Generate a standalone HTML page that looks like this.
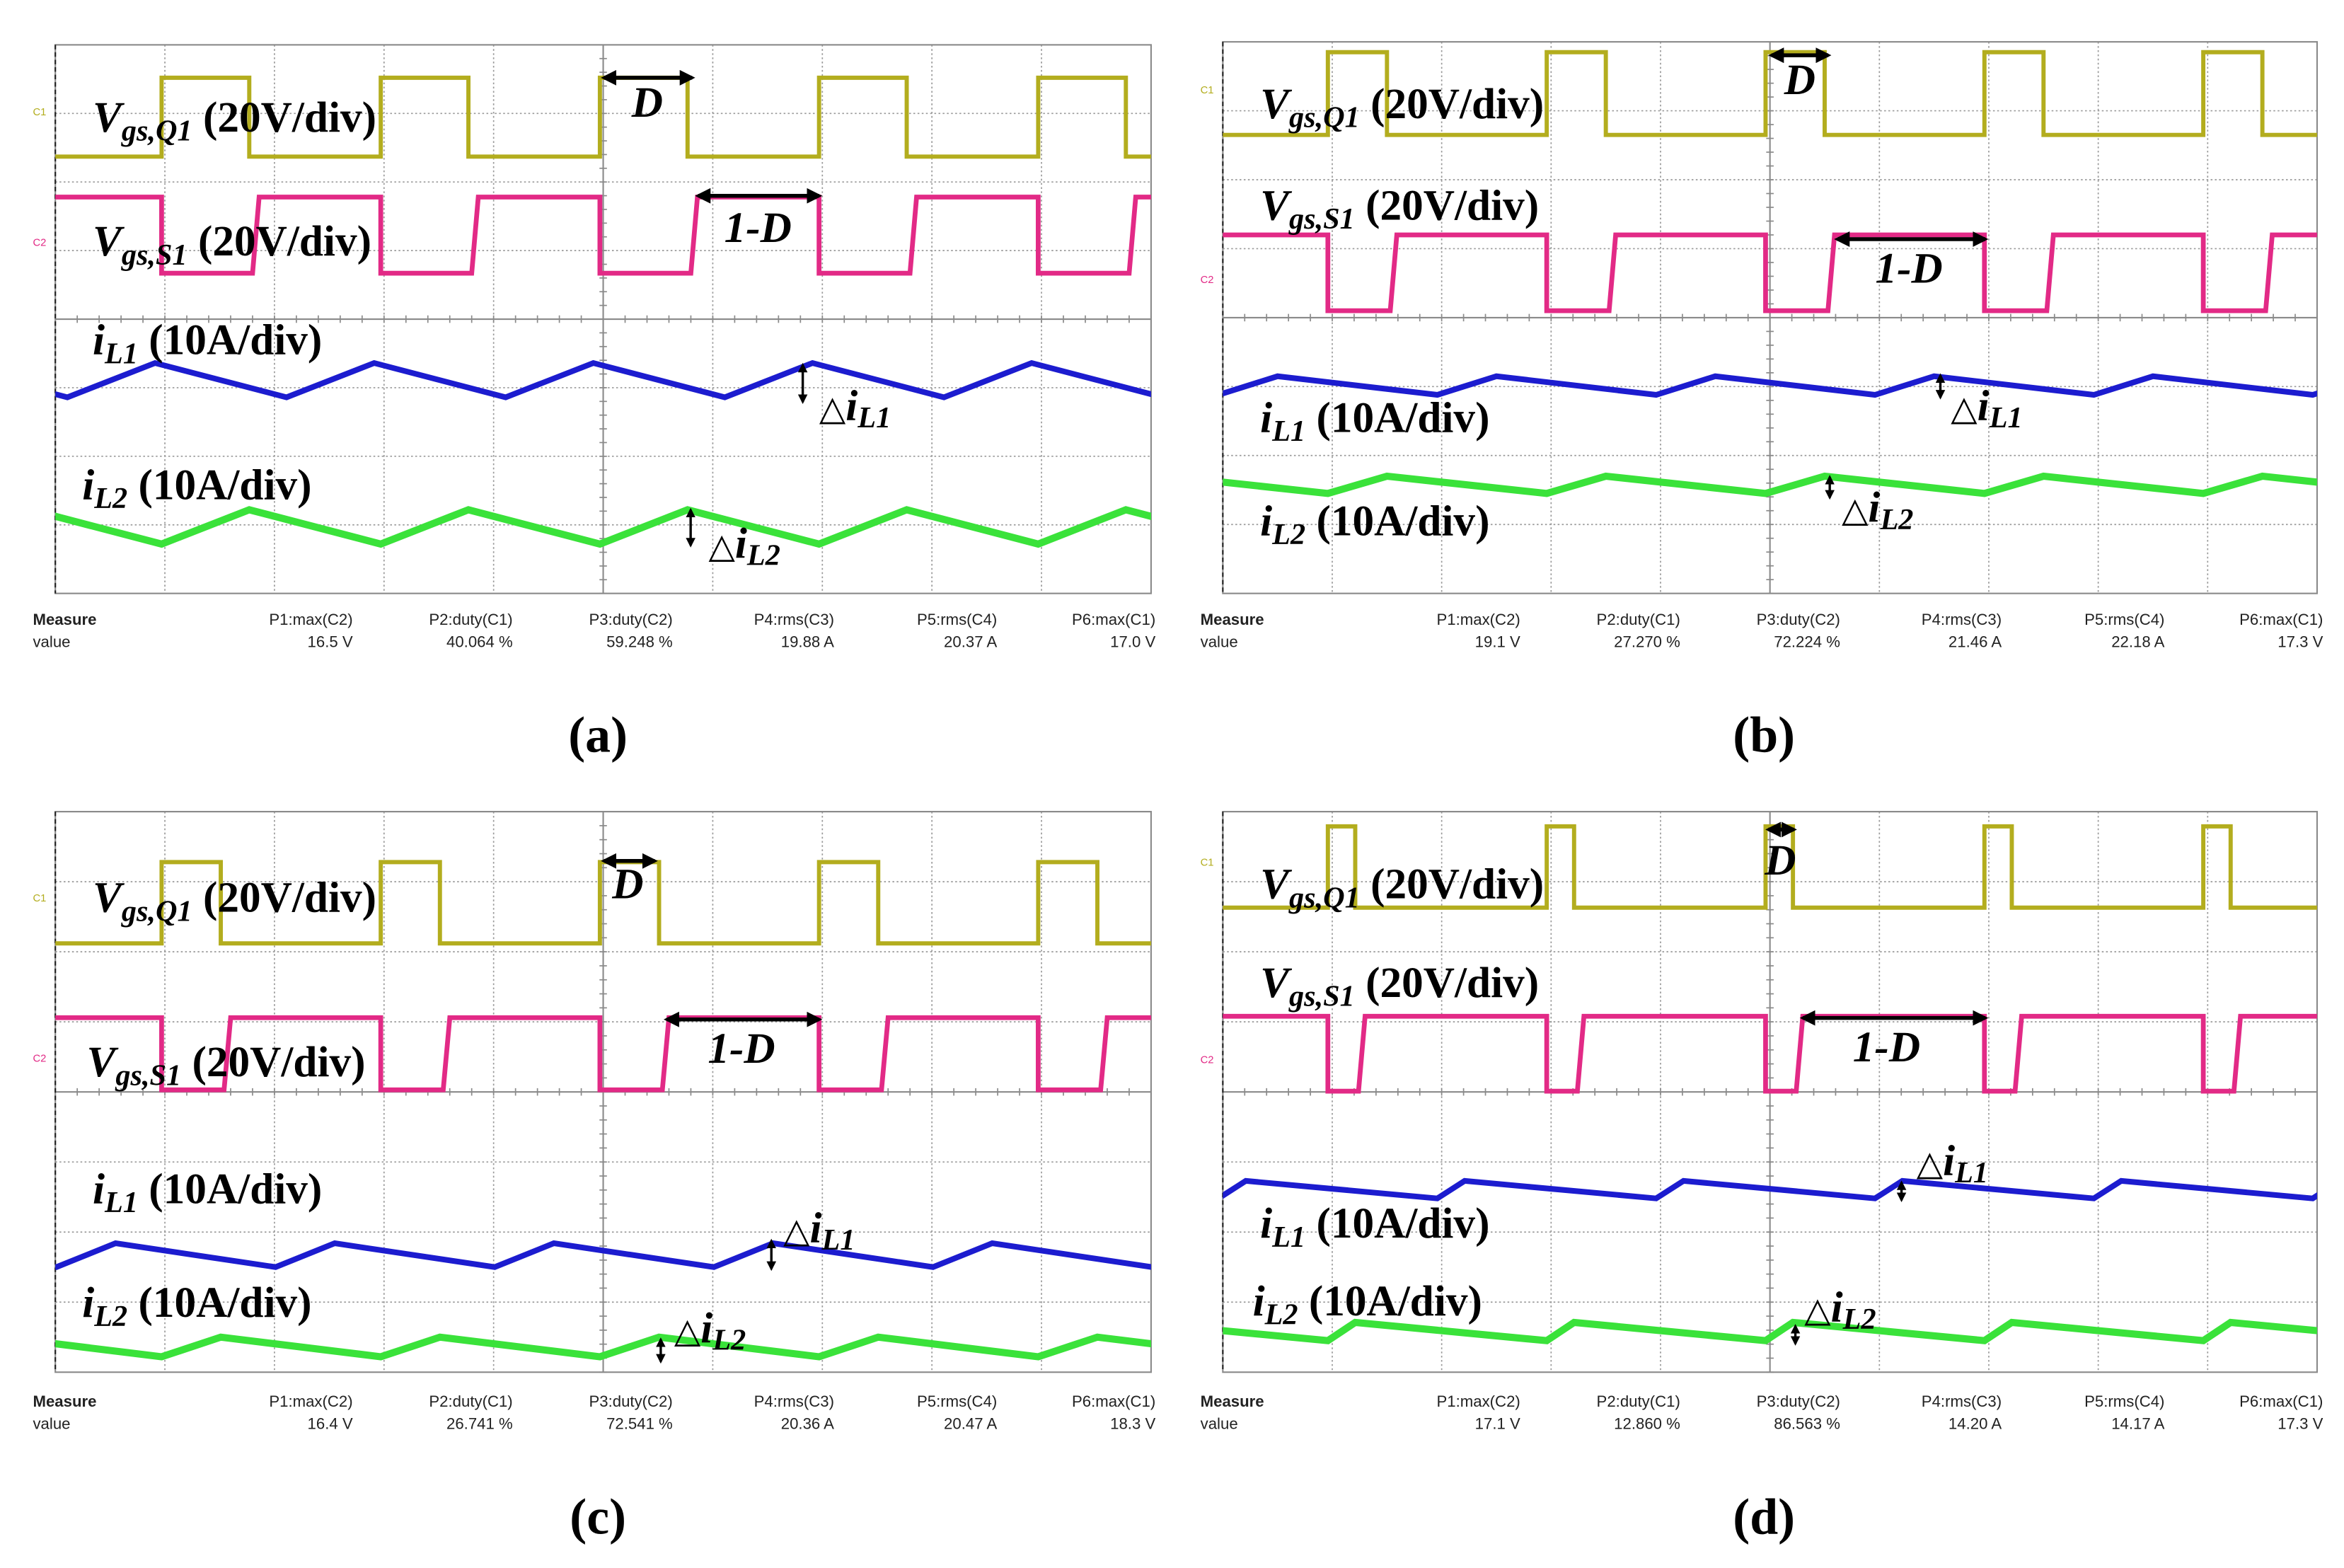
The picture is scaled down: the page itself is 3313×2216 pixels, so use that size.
<!DOCTYPE html>
<html><head><meta charset="utf-8"><style>
html,body{margin:0;padding:0;background:#fff;}
svg{display:block;}
.lbl{font-family:"Liberation Serif",serif;font-weight:bold;font-size:29px;fill:#000;}
.ms{font-family:"Liberation Sans",sans-serif;font-size:10.5px;fill:#222;}
.cap{font-family:"Liberation Serif",serif;font-weight:bold;font-size:34px;fill:#000;}
</style></head><body>
<svg id="fig" xmlns="http://www.w3.org/2000/svg" width="3313" height="2216" viewBox="0 0 1568 1049" preserveAspectRatio="none">
<defs>
<marker id="ah" viewBox="0 0 10 10" refX="8" refY="5" markerWidth="4" markerHeight="4" orient="auto-start-reverse"><path d="M0,0 L10,5 L0,10 z" fill="#000"/></marker>
</defs>
</svg>
<script>
// ---- data (division units: x 0..10, y 0..8 from top) ----
const panelIds = ['a','b','c','d'];
const riseTimes = [0.97, 0.96, 0.97, 0.96];
const dutyCycles = [0.40, 0.27, 0.27, 0.125];
const iL1Offsets = [1.14, 1.0, 1.04, 1.0];
const q1High = [0.48, 0.15, 0.72, 0.21];
const q1Low = [1.63, 1.35, 1.88, 1.37];
const s1High = [2.22, 2.80, 2.94, 2.92];
const s1Low = [3.33, 3.90, 3.97, 3.99];
const iL1Peak = [4.64, 4.85, 6.16, 5.27];
const iL1Trough = [5.14, 5.12, 6.50, 5.52];
const iL2Peak = [6.78, 6.30, 7.50, 7.29];
const iL2Trough = [7.28, 6.55, 7.78, 7.55];
const measureLabels = ['P1:max(C2)','P2:duty(C1)','P3:duty(C2)','P4:rms(C3)','P5:rms(C4)','P6:max(C1)'];
const measureValuesA = ['16.5 V','40.064 %','59.248 %','19.88 A','20.37 A','17.0 V'];
const measureValuesB = ['19.1 V','27.270 %','72.224 %','21.46 A','22.18 A','17.3 V'];
const measureValuesC = ['16.4 V','26.741 %','72.541 %','20.36 A','20.47 A','18.3 V'];
const measureValuesD = ['17.1 V','12.860 %','86.563 %','14.20 A','14.17 A','17.3 V'];
const measureValues = [measureValuesA, measureValuesB, measureValuesC, measureValuesD];

// ---- layout ----
const layout = [
 {x0:37,x1:770,y0:30,y1:397,my:418,cap:[400,503],
  lb:[[62,88],[62,171],[62,237],[55,334]],D:[402,465,52,433,78],OD:[465,550,131,507,162],
  d1:[537,243,270,548,281],d2:[462,340,366,474,373]},
 {x0:818,x1:1550,y0:28,y1:397,my:418,cap:[1180,503],
  lb:[[843,79],[843,147],[843,289],[843,358]],D:[1183,1225,37,1204,63],OD:[1227,1330,160,1277,189],
  d1:[1298,250,267,1305,281],d2:[1224,318,334,1232,349]},
 {x0:37,x1:770,y0:543,y1:918,my:941,cap:[400,1026],
  lb:[[62,610],[58,720],[62,805],[55,881]],D:[402,440,576,420,601],OD:[444,550,682,496,711],
  d1:[516,829,850,524,831],d2:[442,895,912,451,898]},
 {x0:818,x1:1550,y0:543,y1:918,my:941,cap:[1180,1026],
  lb:[[843,601],[843,667],[843,828],[838,880]],D:[1181,1202,555,1191,585],OD:[1204,1330,681,1262,710],
  d1:[1272,790,804,1282,786],d2:[1201,886,900,1207,884]}
];
const NS='http://www.w3.org/2000/svg';
const svg=document.getElementById('fig');
function mk(tag,attrs,parent){const e=document.createElementNS(NS,tag);for(const k in attrs)e.setAttribute(k,attrs[k]);(parent||svg).appendChild(e);return e;}

function trace(g,pts,color,sx,sy,w){
  const d=pts.map((p,i)=>(i?'L':'M')+sx(p[0]).toFixed(2)+','+sy(p[1]).toFixed(2)).join(' ');
  return mk('path',{d:d,fill:'none',stroke:color,'stroke-width':w,'stroke-linejoin':'miter'},g);
}

panelIds.forEach((id,i)=>{
  const L=layout[i];
  const sx=v=>L.x0+(L.x1-L.x0)*v/10;
  const sy=v=>L.y0+(L.y1-L.y0)*v/8;
  const g=mk('g',{});
  
  
  const grid=mk('g',{},g);
  
  
  for(let k=1;k<10;k++){ if(k===5)continue; mk('line',{x1:sx(k),x2:sx(k),y1:L.y0,y2:L.y1,stroke:'#9a9a9a','stroke-width':0.8,'stroke-dasharray':'1.2 1.6'},grid);}
  for(let k=1;k<8;k++){ if(k===4)continue; mk('line',{x1:L.x0,x2:L.x1,y1:sy(k),y2:sy(k),stroke:'#9a9a9a','stroke-width':0.8,'stroke-dasharray':'1.2 1.6'},grid);}
  mk('line',{x1:sx(5),x2:sx(5),y1:L.y0,y2:L.y1,stroke:'#8a8a8a','stroke-width':1},grid);
  mk('line',{x1:L.x0,x2:L.x1,y1:sy(4),y2:sy(4),stroke:'#8a8a8a','stroke-width':1},grid);
  for(let k=0;k<=50;k++){const x=sx(k/5);mk('line',{x1:x,x2:x,y1:sy(4)-2.5,y2:sy(4)+2.5,stroke:'#8a8a8a','stroke-width':0.8},grid);}
  for(let k=0;k<=40;k++){const y=sy(k/5);mk('line',{x1:sx(5)-2.5,x2:sx(5)+2.5,y1:y,y2:y,stroke:'#8a8a8a','stroke-width':0.8},grid);}
  const fr=mk('rect',{x:L.x0,y:L.y0,width:L.x1-L.x0,height:L.y1-L.y0,fill:'none',stroke:'#8a8a8a','stroke-width':1},g);
  
  
  mk('line',{x1:L.x0,x2:L.x0,y1:L.y0,y2:L.y1,stroke:'#222','stroke-width':1,'stroke-dasharray':'3 2'},g);
  const cp=mk('clipPath',{id:'clip'+id},g);
  mk('rect',{x:L.x0,y:L.y0,width:L.x1-L.x0,height:L.y1-L.y0},cp);
  const tg=mk('g',{'clip-path':'url(#clip'+id+')'},g);
  const r=riseTimes[i], D=dutyCycles[i];
  const on=2*D;
  const q=[], s=[], b=[], gr=[];
  for(let k=-2;k<=5;k++){
    const t=r+2*k;
    q.push([t,q1Low[i]],[t,q1High[i]],[t+on,q1High[i]],[t+on,q1Low[i]]);
    s.push([t,s1High[i]],[t,s1Low[i]],[t+on+0.03,s1Low[i]],[t+on+0.09,s1High[i]]);
    gr.push([t,iL2Trough[i]],[t+on,iL2Peak[i]]);
    b.push([t+iL1Offsets[i],iL1Trough[i]],[t+iL1Offsets[i]+on,iL1Peak[i]]);
  }
  let p;
  p=trace(tg,q,'#b3ad1e',sx,sy,2.8);
  
  
  p=trace(tg,s,'#e22a86',sx,sy,3.2);
  
  
  p=trace(tg,b,'#1c1ccf',sx,sy,3.8);
  
  
  p=trace(tg,gr,'#3ae23a',sx,sy,4.8);
  
  
  const chs=[['C1','#b3ad1e',q1Low[i]-0.6],['C2','#e22a86',s1Low[i]-0.4]];
  chs.forEach((c)=>{ const t=mk('text',{x:L.x0-15,y:sy(c[2]),fill:c[1],'font-family':'Liberation Sans,sans-serif','font-size':7},g); t.textContent=c[0];
    
    });
  const lbs=[['V','gs,Q1',' (20V/div)'],['V','gs,S1',' (20V/div)'],['i','L1',' (10A/div)'],['i','L2',' (10A/div)']];
  const lnames=['vgs-q1-label','vgs-s1-label','il1-label','il2-label'];
  lbs.forEach((lb,j)=>{
    const t=mk('text',{x:L.lb[j][0],y:L.lb[j][1],class:'lbl'},g);
    
    
    const a=mk('tspan',{'font-style':'italic'},t);a.textContent=lb[0];
    const c=mk('tspan',{'font-style':'italic','font-size':20,dy:6},t);c.textContent=lb[1];
    const e=mk('tspan',{dy:-6},t);e.textContent=lb[2];
  });
  function harrow(a,name,txt){
    const l=mk('line',{x1:a[0]+2,x2:a[1]-2,y1:a[2],y2:a[2],stroke:'#000','stroke-width':2.6,'marker-start':'url(#ah)','marker-end':'url(#ah)'},g);
    
    
    const t=mk('text',{x:a[3],y:a[4],class:'lbl','font-style':'italic','text-anchor':'middle'},g);
    t.textContent=txt;
    
    
  }
  harrow(L.D,'duty-d','D');
  harrow(L.OD,'duty-1-d','1-D');
  function varrow(a,name,sub){
    const l=mk('line',{x1:a[0],x2:a[0],y1:a[1]+1,y2:a[2]-1,stroke:'#000','stroke-width':1.6,'marker-start':'url(#ah)','marker-end':'url(#ah)'},g);
    
    
    const t=mk('text',{x:a[3],y:a[4],class:'lbl','font-weight':'normal'},g);
    
    
    const s1=mk('tspan',{'font-family':'DejaVu Sans,sans-serif','font-size':23},t);s1.textContent='\u25B3';
    const s2=mk('tspan',{'font-style':'italic','font-weight':'bold'},t);s2.textContent='i';
    const s3=mk('tspan',{'font-style':'italic','font-weight':'bold','font-size':20,dy:5},t);s3.textContent=sub;
  }
  varrow(L.d1,'delta-il1','L1');
  varrow(L.d2,'delta-il2','L2');
  const mg=mk('g',{},g);
  
  
  let t=mk('text',{x:L.x0-15,y:L.my,class:'ms','font-weight':'bold'},mg);t.textContent='Measure';
  t=mk('text',{x:L.x0-15,y:L.my+15,class:'ms'},mg);t.textContent='value';
  const rights=[236,343,450,558,667,773];
  measureLabels.forEach((m,j)=>{
    const rx=rights[j]+(L.x0-37);
    let a=mk('text',{x:rx,y:L.my,class:'ms','text-anchor':'end'},mg);a.textContent=m;
    
    
    a=mk('text',{x:rx,y:L.my+15,class:'ms','text-anchor':'end'},mg);a.textContent=measureValues[i][j];
    
    
  });
  const c=mk('text',{x:L.cap[0],y:L.cap[1],class:'cap','text-anchor':'middle'},g);
  c.textContent='('+id+')';
  
  
});
</script>
</body></html>
